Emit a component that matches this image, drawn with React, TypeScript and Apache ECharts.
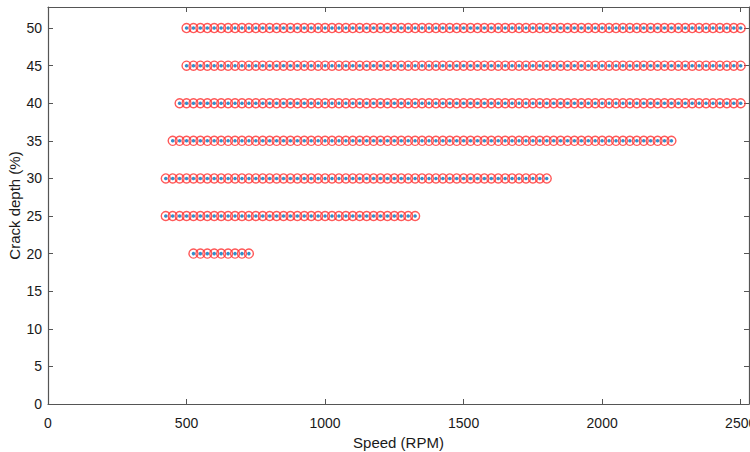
import React, { useEffect, useRef } from "react";
import * as echarts from "echarts";

// Speed grid (RPM) on which the measurements lie
const speedGrid = [
  425, 450, 475, 500, 525, 550, 575, 600, 625, 650, 675, 700, 725, 750, 775, 800,
  825, 850, 875, 900, 925, 950, 975, 1000, 1025, 1050, 1075, 1100, 1125, 1150,
  1175, 1200, 1225, 1250, 1275, 1300, 1325, 1350, 1375, 1400, 1425, 1450, 1475,
  1500, 1525, 1550, 1575, 1600, 1625, 1650, 1675, 1700, 1725, 1750, 1775, 1800,
  1825, 1850, 1875, 1900, 1925, 1950, 1975, 2000, 2025, 2050, 2075, 2100, 2125,
  2150, 2175, 2200, 2225, 2250, 2275, 2300, 2325, 2350, 2375, 2400, 2425, 2450,
  2475, 2500,
];

// Crack depth rows and the speed range covered by each
const crackDepths = [20, 25, 30, 35, 40, 45, 50];
const rowStartSpeed = [525, 425, 425, 450, 475, 500, 500];
const rowEndSpeed = [725, 1325, 1800, 2250, 2500, 2500, 2500];

const xTicks = [0, 500, 1000, 1500, 2000, 2500];
const yTicks = [0, 5, 10, 15, 20, 25, 30, 35, 40, 45, 50];

const X_MAX = 2530;
const Y_MAX = 52.8;

export default function App() {
  const ref = useRef<HTMLDivElement>(null);

  useEffect(() => {
    if (!ref.current) return;
    const chart = echarts.init(ref.current, undefined, { renderer: "svg" });

    const points: number[][] = [];
    crackDepths.forEach((d, i) => {
      speedGrid.forEach((s) => {
        if (s >= rowStartSpeed[i] && s <= rowEndSpeed[i]) points.push([s, d]);
      });
    });

    const axisColor = "#555555";
    const font = "'Liberation Sans', Arial, Helvetica, sans-serif";
    const labelStyle = { color: "#1a1a1a", fontSize: 14, fontFamily: font };

    const xFmt = (v: number) => (xTicks.includes(v) ? String(v) : "");
    const yFmt = (v: number) => (yTicks.includes(v) ? String(v) : "");

    const baseX = {
      type: "value" as const,
      min: 0,
      max: X_MAX,
      interval: 500,
      splitLine: { show: false },
      axisLine: { show: true, onZero: false, lineStyle: { color: axisColor, width: 1.2 } },
      axisTick: { show: true, inside: true, length: 5, lineStyle: { color: axisColor } },
    };
    const baseY = {
      type: "value" as const,
      min: 0,
      max: Y_MAX,
      interval: 5,
      splitLine: { show: false },
      axisLine: { show: true, onZero: false, lineStyle: { color: axisColor, width: 1.2 } },
      axisTick: { show: true, inside: true, length: 5, lineStyle: { color: axisColor } },
    };

    chart.setOption({
      animation: false,
      backgroundColor: "#ffffff",
      grid: {
        left: 48,
        right: 1,
        top: 7,
        bottom: 48,
        containLabel: false,
        outerBoundsMode: "none",
      },
      xAxis: [
        {
          ...baseX,
          position: "bottom",
          name: "Speed (RPM)",
          nameLocation: "middle",
          nameGap: 31,
          nameMoveOverlap: false,
          nameTextStyle: { color: "#1a1a1a", fontSize: 15, fontFamily: font },
          axisLabel: { ...labelStyle, margin: 12, formatter: xFmt, showMaxLabel: false },
        },
        {
          ...baseX,
          position: "top",
          axisLabel: { show: false },
        },
      ],
      yAxis: [
        {
          ...baseY,
          position: "left",
          name: "Crack depth (%)",
          nameLocation: "middle",
          nameGap: 26,
          nameMoveOverlap: false,
          nameTextStyle: { color: "#1a1a1a", fontSize: 15, fontFamily: font },
          axisLabel: { ...labelStyle, margin: 6, formatter: yFmt, showMaxLabel: false },
        },
        {
          ...baseY,
          position: "right",
          axisLabel: { show: false },
        },
      ],
      series: [
        {
          type: "scatter",
          xAxisIndex: 0,
          yAxisIndex: 0,
          symbol: "circle",
          symbolSize: 9,
          itemStyle: { color: "rgba(255,255,255,0)", borderColor: "#ff3030", borderWidth: 1.4 },
          data: points,
          silent: true,
        },
        {
          type: "scatter",
          xAxisIndex: 0,
          yAxisIndex: 0,
          symbol: "circle",
          symbolSize: 3.5,
          itemStyle: { color: "#0072bd" },
          data: points,
          silent: true,
        },
      ],
    });

    return () => chart.dispose();
  }, []);

  return (
    <div
      ref={ref}
      style={{ position: "fixed", left: 0, top: 0, width: 750, height: 452, background: "#fff" }}
    />
  );
}
